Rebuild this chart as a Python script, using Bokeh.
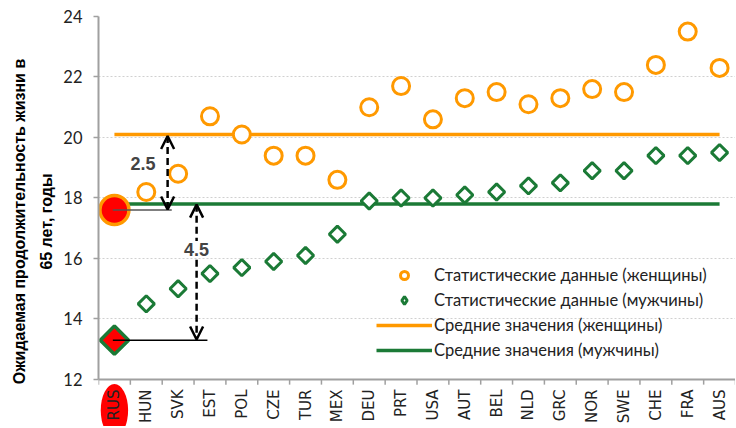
from bokeh.plotting import figure
from bokeh.models import (FactorRange, Range1d, Legend, LegendItem, Arrow, OpenHead,
                          Label, SingleIntervalTicker, Title)
from bokeh.embed import file_html
from bokeh.resources import INLINE

countries = ["RUS", "HUN", "SVK", "EST", "POL", "CZE", "TUR", "MEX", "DEU", "PRT",
             "USA", "AUT", "BEL", "NLD", "GRC", "NOR", "SWE", "CHE", "FRA", "AUS"]
women = [17.6, 18.2, 18.8, 20.7, 20.1, 19.4, 19.4, 18.6, 21.0, 21.7,
         20.6, 21.3, 21.5, 21.1, 21.3, 21.6, 21.5, 22.4, 23.5, 22.3]
men = [13.3, 14.5, 15.0, 15.5, 15.7, 15.9, 16.1, 16.8, 17.9, 18.0,
       18.0, 18.1, 18.2, 18.4, 18.5, 18.9, 18.9, 19.4, 19.4, 19.5]
mean_women = 20.1
mean_men = 17.8
gap_women = "2.5"
gap_men = "4.5"
y_min, y_max = 12, 24
y_title_lines = ["Ожидаемая продолжительность жизни в", "65 лет, годы"]

ORANGE = "#FF9900"
GREEN = "#1B7A36"
RED = "#FF0000"
AXIS = "#A0A0A0"

# frame extends below the x axis so the highlight behind "RUS" can be drawn
p = figure(width=735, height=426, x_range=FactorRange(*countries),
           y_range=Range1d(10.446, y_max),
           output_backend="svg", toolbar_location=None,
           min_border_left=98, min_border_right=0, min_border_top=16, min_border_bottom=0)
p.outline_line_color = None
p.background_fill_color = "white"

# highlight behind the Russia tick label
p.ellipse(x=["RUS"], y=[10.98], width=0.86, height=1.75, fill_color=RED, line_color=None)

# category boundary ticks on the x axis
bounds = list(range(len(countries) + 1))
p.segment(x0=bounds, y0=[y_min] * len(bounds), x1=bounds, y1=[y_min - 0.17] * len(bounds),
          line_color=AXIS, line_width=1.5)

# mean lines
l_w = p.line([countries[0], countries[-1]], [mean_women, mean_women], line_color=ORANGE, line_width=3.5)
l_m = p.line([countries[0], countries[-1]], [mean_men, mean_men], line_color=GREEN, line_width=3.5)

# data points
r_w = p.scatter(countries[1:], women[1:], marker="circle", size=17, fill_color="white",
                line_color=ORANGE, line_width=3)
p.scatter(countries[1:], men[1:], marker="square", angle=0.785398, size=11.5,
          fill_color="white", line_color=GREEN, line_width=3)
r_m_leg = p.scatter(x=[countries[0]], y=[float("nan")], marker="diamond", size=14,
                    fill_color="white", line_color=GREEN, line_width=3)
p.scatter(countries[:1], women[:1], marker="circle", size=29, fill_color=RED,
          line_color=ORANGE, line_width=3.5)
p.scatter(countries[:1], men[:1], marker="square", angle=0.785398, size=20,
          fill_color=RED, line_color=GREEN, line_width=3.5)

# reference lines from Russia
p.line([0.45, 2.3], [women[0], women[0]], line_color="#555555", line_width=1.5)
p.line([0.45, 3.42], [men[0], men[0]], line_color="black", line_width=1.5)

# gap labels and arrows
p.add_layout(Label(x=1.4, y=19.15, text=gap_women, text_font="Liberation Sans",
                   text_font_style="bold", text_font_size="18px", text_align="center",
                   text_baseline="middle", background_fill_color="white", padding=6))
for xa, y0, y1 in [(2.17, mean_women - 0.05, women[0] + 0.02), (3.08, mean_men - 0.02, men[0] + 0.02)]:
    p.add_layout(Arrow(x_start=xa, y_start=y0, x_end=xa, y_end=y1,
                       line_dash="7 4", line_width=2.5, line_color="black",
                       start=OpenHead(size=13, line_width=2.5, line_color="black"),
                       end=OpenHead(size=13, line_width=2.5, line_color="black")))
p.add_layout(Label(x=3.08, y=16.3, text=gap_men, text_font="Liberation Sans",
                   text_font_style="bold", text_font_size="18px", text_align="center",
                   text_baseline="middle", background_fill_color="white", padding=2))

# y axis title (two lines), centred on the 12..24 span
for line_text, so in [(y_title_lines[1], 12), (y_title_lines[0], 4)]:
    p.add_layout(Title(text=line_text, align="center", offset=29, standoff=so,
                       text_font="Liberation Sans", text_font_style="bold",
                       text_font_size="16px", text_color="black"), "left")

# axes
p.yaxis.ticker = SingleIntervalTicker(interval=2)
p.yaxis.bounds = (y_min, y_max)
p.yaxis.major_label_text_font = "Lato"
p.yaxis.major_label_text_font_size = "16.5px"
p.yaxis.major_label_text_color = "#222222"
p.yaxis.major_label_standoff = 11
p.yaxis.axis_line_color = AXIS
p.yaxis.axis_line_width = 2
p.yaxis.major_tick_line_color = AXIS
p.yaxis.major_tick_line_width = 1.5
p.yaxis.major_tick_in = 0
p.yaxis.major_tick_out = 5
p.yaxis.minor_tick_line_color = None

p.xaxis.fixed_location = y_min
p.xaxis.major_label_orientation = 1.5708
p.xaxis.major_label_text_font = "DejaVu Sans"
p.xaxis.major_label_text_font_size = "15px"
p.xaxis.major_label_text_color = "#222222"
p.xaxis.axis_line_color = AXIS
p.xaxis.axis_line_width = 2
p.xaxis.major_tick_line_color = None
p.xaxis.major_tick_out = 0
p.xaxis.major_tick_in = 0
p.xaxis.major_label_standoff = 10

p.xgrid.grid_line_color = None
p.ygrid.grid_line_color = "#D0D0D0"
p.ygrid.grid_line_dash = "2 2"

legend = Legend(items=[
    LegendItem(label="Статистические данные (женщины)", renderers=[r_w]),
    LegendItem(label="Статистические данные (мужчины)", renderers=[r_m_leg]),
    LegendItem(label="Средние значения (женщины)", renderers=[l_w]),
    LegendItem(label="Средние значения (мужчины)", renderers=[l_m]),
], location=(278, 66), border_line_color=None, background_fill_alpha=0,
    label_text_font="Lato", label_text_font_size="16.5px", label_text_color="#222222",
    glyph_width=56, glyph_height=20, label_height=20, spacing=5, label_standoff=2, padding=4)
p.add_layout(legend)

open("out.html", "w").write(file_html(p, INLINE))
